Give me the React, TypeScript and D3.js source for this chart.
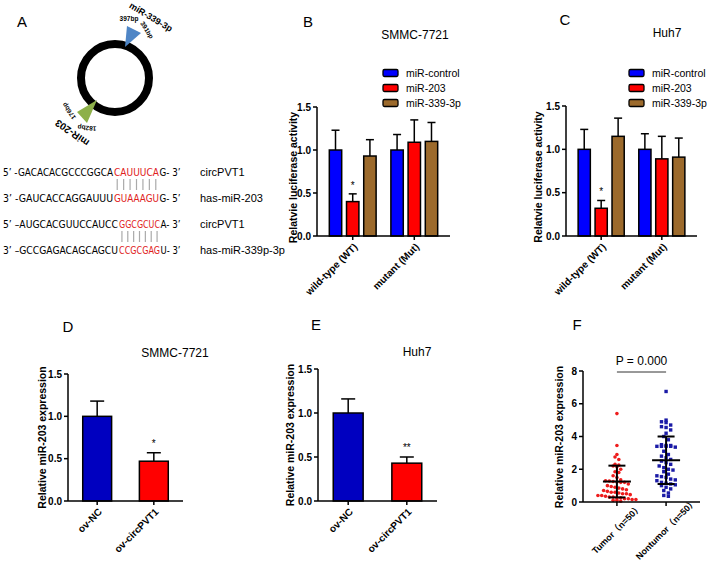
import React from "react";
import * as d3 from "d3";

const FONT = "'Liberation Sans', Arial, 'Noto Sans CJK SC', sans-serif";
const SEQ_FONT = "'Liberation Sans Narrow', 'DejaVu Sans Condensed', 'Liberation Sans', Arial, sans-serif";

// ---------- Panel A ----------
const seqPre = ["5’ -GACACACGCCCGGCA", "3’ -GAUCACCAGGAUUU", "5’ –AUGCACGUUCCAUCC", "3’ –GCCGAGACAGCAGCU"];
const seqSite = ["CAUUUCA", "GUAAAGU", "GGCGCUC", "CCGCGAG"];
const seqPost = ["G- 3’", "G- 5’", "A- 3’", "U- 3’"];
const seqNames = ["circPVT1", "has-miR-203", "circPVT1", "has-miR-339p-3p"];

// ---------- Panels B, C ----------
const lucGroups = ["wild-type (WT)", "mutant (Mut)"];
const lucSeries = ["miR-control", "miR-203", "miR-339-3p"];
const smmcLucMean = [[1.0, 0.40, 0.93], [1.0, 1.09, 1.10]];
const smmcLucSem = [[0.23, 0.09, 0.19], [0.18, 0.26, 0.22]];
const huh7LucMean = [[1.0, 0.32, 1.15], [1.0, 0.89, 0.91]];
const huh7LucSem = [[0.23, 0.09, 0.21], [0.18, 0.26, 0.22]];
const barTicks = [0, 0.5, 1.0, 1.5];

// ---------- Panels D, E ----------
const ovGroups = ["ov-NC", "ov-circPVT1"];
const smmcExprMean = [1.0, 0.47];
const smmcExprSem = [0.18, 0.10];
const huh7ExprMean = [1.0, 0.43];
const huh7ExprSem = [0.16, 0.07];

// ---------- Panel F ----------
const tissueGroups = ["Tumor（n=50）", "Nontumor（n=50）"];
const tumorValues = [5.4, 3.45, 2.9, 2.75, 2.6, 2.3, 2.25, 2.2, 2.15, 2.0, 1.85, 1.8, 1.6, 1.5, 1.35, 1.3, 1.28, 1.25, 1.22, 1.2,
  1.2, 1.1, 1.0, 0.95, 0.9, 0.85, 0.8, 0.75, 0.7, 0.65, 0.6, 0.6, 0.55, 0.5, 0.5, 0.45, 0.4, 0.4, 0.35, 0.3,
  0.3, 0.25, 0.25, 0.2, 0.2, 0.15, 0.15, 0.1, 0.1, 0.05];
const nontumorValues = [6.75, 5.0, 4.9, 4.85, 4.7, 4.6, 4.55, 4.4, 4.2, 4.0, 3.8, 3.5, 3.45, 3.45, 3.4, 3.4, 3.4, 3.4, 3.35, 3.1,
  2.9, 2.8, 2.7, 2.6, 2.5, 2.4, 2.3, 2.2, 2.1, 2.0, 1.95, 1.85, 1.7, 1.6, 1.55, 1.5, 1.4, 1.35, 1.3, 1.2,
  1.15, 1.1, 1.05, 1.0, 0.9, 0.8, 0.7, 0.55, 0.4, 0.35];
const tissueMean = [1.25, 2.55];
const tissueSd = [0.97, 1.45];
const scatterTicks = [0, 2, 4, 6, 8];

const lucColors = ["#0000ff", "#ff0000", "#9c6a2c"];
const ovColors = ["#0000c0", "#ff0000"];

type Frame = { left: number; right: number; top: number; bottom: number };

function YAxis({ x, y, ticks, fmt }: { x: number; y: d3.ScaleLinear<number, number>; ticks: number[]; fmt: (v: number) => string }) {
  const [r0, r1] = y.range();
  return (
    <g>
      <line x1={x} x2={x} y1={r0} y2={r1} stroke="#000" strokeWidth={1.5} />
      {ticks.map((t) => (
        <g key={t}>
          <line x1={x - 4} x2={x} y1={y(t)} y2={y(t)} stroke="#000" strokeWidth={1.5} />
          <text x={x - 6} y={y(t)} dy="0.35em" textAnchor="end" fontSize={10} fontWeight="bold">{fmt(t)}</text>
        </g>
      ))}
    </g>
  );
}

function XAxis({ f, centers, labels, centered }: { f: Frame; centers: number[]; labels: string[]; centered?: boolean }) {
  return (
    <g>
      <line x1={f.left} x2={f.right} y1={f.bottom} y2={f.bottom} stroke="#000" strokeWidth={1.5} />
      {centers.map((c, i) => (
        <g key={i}>
          <line x1={c} x2={c} y1={f.bottom} y2={f.bottom + 4} stroke="#000" strokeWidth={1.5} />
          {centered ? (
            <text transform={`translate(${c},${f.bottom + 27}) rotate(-45)`} textAnchor="middle" dy="0.35em" fontSize={9} fontWeight="bold">
              {labels[i]}
            </text>
          ) : (
            <text transform={`translate(${c + 3},${f.bottom + 9}) rotate(-45)`} textAnchor="end" dy="0.35em" fontSize={10} fontWeight="bold">
              {labels[i]}
            </text>
          )}
        </g>
      ))}
    </g>
  );
}

function YLabel({ x, y, text }: { x: number; y: number; text: string }) {
  return (
    <text transform={`translate(${x},${y}) rotate(-90)`} textAnchor="middle" fontSize={10.5} fontWeight="bold">{text}</text>
  );
}

function ErrBar({ x, y0, y1, cap }: { x: number; y0: number; y1: number; cap: number }) {
  return (
    <g stroke="#000" strokeWidth={1.5}>
      <line x1={x} x2={x} y1={y0} y2={y1} />
      <line x1={x - cap} x2={x + cap} y1={y1} y2={y1} />
    </g>
  );
}

function LucPanel({ f, means, sems, letter, letterPos, title, titlePos, legendX, legendY, yLabelX }: any) {
  const y = d3.scaleLinear().domain([0, 1.5]).range([f.bottom, f.top]);
  const x0 = d3.scaleBand().domain(lucGroups).range([f.left, f.right]).paddingInner(0.24).paddingOuter(0.2);
  const x1 = d3.scaleBand().domain(lucSeries).range([0, x0.bandwidth()]).paddingInner(0.28);
  const centers = lucGroups.map((g) => (x0(g) as number) + x0.bandwidth() / 2);
  return (
    <g>
      <text x={letterPos[0]} y={letterPos[1]} fontSize={15} textAnchor="middle" dy="0.35em">{letter}</text>
      <text x={titlePos[0]} y={titlePos[1]} fontSize={12} textAnchor="middle" dy="0.35em">{title}</text>
      {lucSeries.map((s, i) => (
        <g key={s}>
          <rect x={legendX} y={legendY + i * 15 - 3.5} width={15} height={7} rx={1.5} fill={lucColors[i]} stroke="#000" strokeWidth={1.3} />
          <text x={legendX + 23} y={legendY + i * 15} dy="0.35em" fontSize={10.5}>{s}</text>
        </g>
      ))}
      {lucGroups.map((g, gi) =>
        lucSeries.map((s, si) => {
          const bx = (x0(g) as number) + (x1(s) as number);
          const v = means[gi][si];
          const e = sems[gi][si];
          return (
            <g key={g + s}>
              <ErrBar x={bx + x1.bandwidth() / 2} y0={y(v)} y1={y(v + e)} cap={4} />
              <rect x={bx} y={y(v)} width={x1.bandwidth()} height={f.bottom - y(v)} fill={lucColors[si]} stroke="#000" strokeWidth={1.5} />
            </g>
          );
        })
      )}
      <text x={(x0(lucGroups[0]) as number) + (x1(lucSeries[1]) as number) + x1.bandwidth() / 2} y={y(means[0][1] + sems[0][1]) - 5} textAnchor="middle" fontSize={10}>*</text>
      <YAxis x={f.left} y={y} ticks={barTicks} fmt={d3.format(".1f")} />
      <XAxis f={f} centers={centers} labels={lucGroups} />
      <YLabel x={yLabelX} y={(f.top + f.bottom) / 2 + 6} text="Relatvie luciferase activity" />
    </g>
  );
}

function OvPanel({ f, means, sems, letter, letterPos, title, titlePos, star, yLabelX }: any) {
  const y = d3.scaleLinear().domain([0, 1.5]).range([f.bottom, f.top]);
  const x = d3.scaleBand().domain(ovGroups).range([f.left, f.right]).paddingInner(0.49).paddingOuter(0.26);
  const centers = ovGroups.map((g) => (x(g) as number) + x.bandwidth() / 2);
  return (
    <g>
      <text x={letterPos[0]} y={letterPos[1]} fontSize={15} textAnchor="middle" dy="0.35em">{letter}</text>
      <text x={titlePos[0]} y={titlePos[1]} fontSize={12} textAnchor="middle" dy="0.35em">{title}</text>
      {ovGroups.map((g, i) => (
        <g key={g}>
          <ErrBar x={centers[i]} y0={y(means[i])} y1={y(means[i] + sems[i])} cap={7} />
          <rect x={x(g)} y={y(means[i])} width={x.bandwidth()} height={f.bottom - y(means[i])} fill={ovColors[i]} stroke="#000" strokeWidth={1.5} />
        </g>
      ))}
      <text x={centers[1]} y={y(means[1] + sems[1]) - 6} textAnchor="middle" fontSize={10}>{star}</text>
      <YAxis x={f.left} y={y} ticks={barTicks} fmt={d3.format(".1f")} />
      <XAxis f={f} centers={centers} labels={ovGroups} />
      <YLabel x={yLabelX} y={(f.top + f.bottom) / 2} text="Relative miR-203 expression" />
    </g>
  );
}

function swarm(values: number[], bin: number, spacing: number) {
  const groups = d3.group(values, (v) => Math.round(v / bin));
  const out: { v: number; dx: number }[] = [];
  groups.forEach((arr) => {
    arr.forEach((v, k) => out.push({ v, dx: (k - (arr.length - 1) / 2) * spacing }));
  });
  return out;
}

function ScatterPanel() {
  const f: Frame = { left: 583, right: 700, top: 371, bottom: 502 };
  const y = d3.scaleLinear().domain([0, 8]).range([f.bottom, f.top]);
  const x = d3.scalePoint().domain(tissueGroups).range([f.left, f.right]).padding(0.69);
  const centers = tissueGroups.map((g) => x(g) as number);
  const tPts = swarm(tumorValues, 0.3, 3.8);
  const nPts = swarm(nontumorValues, 0.3, 4.6);
  return (
    <g>
      <text x={577} y={325} fontSize={15} textAnchor="middle" dy="0.35em">F</text>
      <text x={(centers[0] + centers[1]) / 2} y={361} fontSize={12} textAnchor="middle" dy="0.35em">P = 0.000</text>
      <line x1={centers[0]} x2={centers[1]} y1={372} y2={372} stroke="#333" strokeWidth={1} />
      {tPts.map((p, i) => (
        <circle key={"t" + i} cx={centers[0] + p.dx} cy={y(p.v)} r={1.8} fill="#ee1c1c" />
      ))}
      {nPts.map((p, i) => (
        <rect key={"n" + i} x={centers[1] + p.dx - 1.7} y={y(p.v) - 1.7} width={3.4} height={3.4} fill="#1a1aa6" />
      ))}
      {centers.map((c, i) => (
        <g key={i} stroke="#000" strokeWidth={2}>
          <line x1={c} x2={c} y1={y(tissueMean[i] - tissueSd[i])} y2={y(tissueMean[i] + tissueSd[i])} />
          <line x1={c - 14} x2={c + 14} y1={y(tissueMean[i])} y2={y(tissueMean[i])} />
          <line x1={c - 8.5} x2={c + 8.5} y1={y(tissueMean[i] - tissueSd[i])} y2={y(tissueMean[i] - tissueSd[i])} />
          <line x1={c - 8.5} x2={c + 8.5} y1={y(tissueMean[i] + tissueSd[i])} y2={y(tissueMean[i] + tissueSd[i])} />
        </g>
      ))}
      <YAxis x={f.left} y={y} ticks={scatterTicks} fmt={d3.format("d")} />
      <XAxis f={f} centers={centers} labels={tissueGroups} centered />
      <YLabel x={563} y={437} text="Relative miR-203 expression" />
    </g>
  );
}

function PanelA() {
  const lineY = [172, 198, 224, 250];
  const siteX = [114, 114, 119, 119];
  const siteW = [45, 45, 41, 41];
  return (
    <g>
      <text x={22} y={22} fontSize={15} textAnchor="middle" dy="0.35em">A</text>
      <circle cx={115} cy={78} r={34} fill="none" stroke="#000" strokeWidth={8} />
      <polygon points="125,47 127,26 141,33" fill="#4f86c6" />
      <polygon points="97,100 77,112 87,123" fill="#8db04a" />
      <text x={129} y={19} fontSize={6.5} fontWeight="bold" textAnchor="middle" dy="0.35em">397bp</text>
      <text transform="translate(147,30) rotate(58)" fontSize={6.5} fontWeight="bold" textAnchor="middle" dy="0.35em">391bp</text>
      <text transform="translate(151,17) rotate(31)" fontSize={9} fontWeight="bold" textAnchor="middle" dy="0.35em">miR-339-3p</text>
      <text transform="translate(69,111) rotate(235)" fontSize={6.5} fontWeight="bold" textAnchor="middle" dy="0.35em">176bp</text>
      <text transform="translate(87,128) rotate(185)" fontSize={6.5} fontWeight="bold" textAnchor="middle" dy="0.35em">182bp</text>
      <text transform="translate(72,133) rotate(215)" fontSize={10} fontWeight="bold" textAnchor="middle" dy="0.35em">miR-203</text>
      {seqPre.map((pre, i) => (
        <g key={i} fontSize={11}>
          <text y={lineY[i]} dy="0.35em" fontFamily={SEQ_FONT}>
            <tspan x={3} textLength={siteX[i] - 4} lengthAdjust="spacingAndGlyphs">{pre}</tspan>
            <tspan x={siteX[i]} fill="#e0201a" textLength={siteW[i]} lengthAdjust="spacingAndGlyphs">{seqSite[i]}</tspan>
            <tspan x={siteX[i] + siteW[i] + 0.5} textLength={180 - siteX[i] - siteW[i]} lengthAdjust="spacingAndGlyphs">{seqPost[i]}</tspan>
          </text>
          <text x={200} y={lineY[i]} dy="0.35em">{seqNames[i]}</text>
        </g>
      ))}
      {[0, 2].map((li) =>
        d3.range(seqSite[li].length).map((k) => {
          const bx = siteX[li] + (k + 0.5) * (siteW[li] / seqSite[li].length);
          return <line key={li + "-" + k} x1={bx} x2={bx} y1={lineY[li] + 7} y2={lineY[li + 1] - 8} stroke="#aaa" strokeWidth={1.2} />;
        })
      )}
    </g>
  );
}

export default function App() {
  return (
    <svg width={708} height={562} style={{ position: "absolute", left: 0, top: 0, background: "#fff" }} fontFamily={FONT}>
      <rect width={708} height={562} fill="#fff" />
      <PanelA />
      <LucPanel f={{ left: 317, right: 450, top: 107, bottom: 236 }} means={smmcLucMean} sems={smmcLucSem}
        letter="B" letterPos={[308, 22]} title="SMMC-7721" titlePos={[415, 35]} legendX={383} legendY={73} yLabelX={297} />
      <LucPanel f={{ left: 566, right: 697, top: 106, bottom: 236 }} means={huh7LucMean} sems={huh7LucSem}
        letter="C" letterPos={[565, 20]} title="Huh7" titlePos={[667, 33]} legendX={629} legendY={73} yLabelX={542} />
      <OvPanel f={{ left: 68, right: 183, top: 374, bottom: 501 }} means={smmcExprMean} sems={smmcExprSem}
        letter="D" letterPos={[68, 327]} title="SMMC-7721" titlePos={[175, 353]} star="*" yLabelX={46} />
      <OvPanel f={{ left: 318, right: 437, top: 369, bottom: 501 }} means={huh7ExprMean} sems={huh7ExprSem}
        letter="E" letterPos={[316, 325]} title="Huh7" titlePos={[417, 352]} star="**" yLabelX={294} />
      <ScatterPanel />
    </svg>
  );
}
